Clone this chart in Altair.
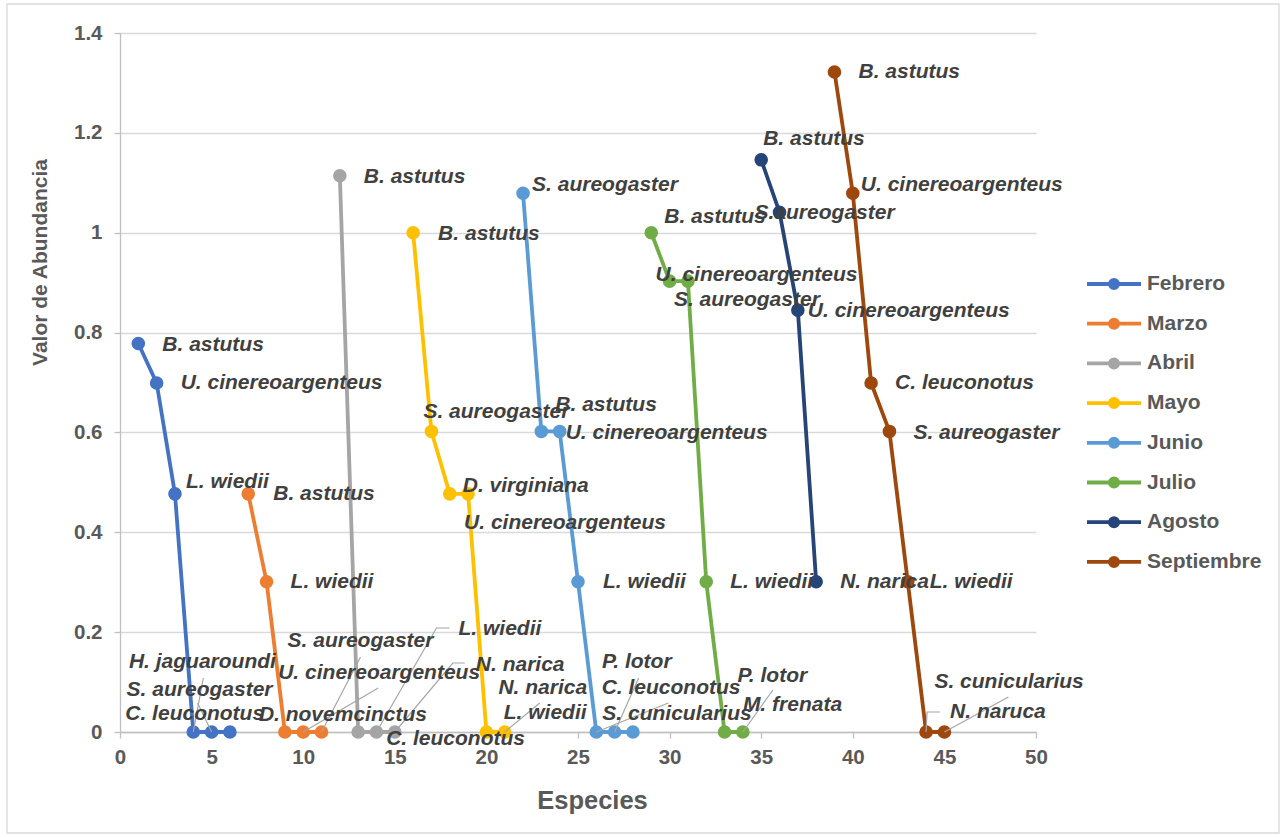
import altair as alt
import pandas as pd

# ---- series -------------------------------------------------------------
meses = ["Febrero", "Marzo", "Abril", "Mayo", "Junio", "Julio", "Agosto", "Septiembre"]
colores = ["#4472C4", "#ED7D31", "#A5A5A5", "#FFC000", "#5B9BD5", "#70AD47", "#264478", "#9E480E"]

feb_x = [1, 2, 3, 4, 5, 6]
feb_y = [0.778, 0.699, 0.477, 0, 0, 0]
feb_sp = ["B. astutus", "U. cinereoargenteus", "L. wiedii", "C. leuconotus",
          "S. aureogaster", "H. jaguaroundi"]

mar_x = [7, 8, 9, 10, 11]
mar_y = [0.477, 0.301, 0, 0, 0]
mar_sp = ["B. astutus", "L. wiedii", "D. novemcinctus", "U. cinereoargenteus", "S. aureogaster"]

abr_x = [12, 13, 14, 15]
abr_y = [1.114, 0, 0, 0]
abr_sp = ["B. astutus", "C. leuconotus", "L. wiedii", "N. narica"]

may_x = [16, 17, 18, 19, 20, 21]
may_y = [1.0, 0.602, 0.477, 0.477, 0, 0]
may_sp = ["B. astutus", "S. aureogaster", "D. virginiana", "U. cinereoargenteus",
          "N. narica", "L. wiedii"]

jun_x = [22, 23, 24, 25, 26, 27, 28]
jun_y = [1.079, 0.602, 0.602, 0.301, 0, 0, 0]
jun_sp = ["S. aureogaster", "B. astutus", "U. cinereoargenteus", "L. wiedii",
          "S. cunicularius", "C. leuconotus", "P. lotor"]

jul_x = [29, 30, 31, 32, 33, 34]
jul_y = [1.0, 0.903, 0.903, 0.301, 0, 0]
jul_sp = ["B. astutus", "U. cinereoargenteus", "S. aureogaster", "L. wiedii",
          "P. lotor", "M. frenata"]

ago_x = [35, 36, 37, 38]
ago_y = [1.146, 1.041, 0.845, 0.301]
ago_sp = ["B. astutus", "S.aureogaster", "U. cinereoargenteus", "N. narica"]

sep_x = [39, 40, 41, 42, 43, 44, 45]
sep_y = [1.322, 1.079, 0.699, 0.602, 0.301, 0, 0]
sep_sp = ["B. astutus", "U. cinereoargenteus", "C. leuconotus", "S. aureogaster",
          "L. wiedii", "N. naruca", "S. cunicularius"]

# ---- label placement (pixel offsets of each label from its point) --------
feb_off = [(24, 1), (24, 0), (11, -12), (-68, -18), (-85, -42), (-101, -70)]
mar_off = [(25, 0), (24, 0), (-26, -17), (-25, -59), (-34, -91)]
abr_off = [(24, 1), (28, 7), (82, -103), (81, -67)]
may_off = [(25, 1), (-8, -19), (13, -8), (-4, 29), (12, -44), (-1, -19)]
jun_off = [(9, -8), (14, -26), (6, 2), (25, 0), (6, -18), (-13, -44), (-31, -70)]
jul_off = [(13, -16), (-14, -6), (-14, 19), (24, 0), (13, -56), (0, -27)]
ago_off = [(2, -21), (-25, 1), (10, 1), (24, 0)]
sep_off = [(24, 0), (8, -8), (24, 0), (24, 2), (22, 0), (24, -20), (-10, -50)]

# leader lines: (month, species index, bend points as pixel offsets)
guias = [
    ("Febrero", 4, [(10, -54)]),
    ("Febrero", 5, [(-14, -29)]),
    ("Marzo", 10, [(75, -44)]),
    ("Marzo", 11, [(39, -75)]),
    ("Abril", 14, [(60, -104), (73, -104)]),
    ("Abril", 15, [(58, -69), (70, -69)]),
    ("Mayo", 21, [(35, -29)]),
    ("Junio", 26, [(72, -29)]),
    ("Junio", 27, [(24, -54)]),
    ("Julio", 34, [(30, -42)]),
    ("Septiembre", 44, [(1, -20), (14, -20)]),
    ("Septiembre", 45, [(64, -35)]),
]

# ---- geometry ------------------------------------------------------------
W, H = 916, 699
X_MAX, Y_MAX = 50, 1.4
UX = X_MAX / W   # x data units per pixel
UY = Y_MAX / H   # y data units per pixel

FONT = "Liberation Sans"
TXT = "#404040"
AXC = "#595959"

series = [
    ("Febrero", feb_x, feb_y, feb_sp, feb_off),
    ("Marzo", mar_x, mar_y, mar_sp, mar_off),
    ("Abril", abr_x, abr_y, abr_sp, abr_off),
    ("Mayo", may_x, may_y, may_sp, may_off),
    ("Junio", jun_x, jun_y, jun_sp, jun_off),
    ("Julio", jul_x, jul_y, jul_sp, jul_off),
    ("Agosto", ago_x, ago_y, ago_sp, ago_off),
    ("Septiembre", sep_x, sep_y, sep_sp, sep_off),
]

rows = []
for mes, xs, ys, names, offs in series:
    for x, y, n, (dx, dy) in zip(xs, ys, names, offs):
        rows.append({"mes": mes, "especie": x, "valor": y, "nombre": n,
                     "lx": x + dx * UX, "ly": y - dy * UY})
df = pd.DataFrame(rows)

lookup = {(r["mes"], r["especie"]): r["valor"] for r in rows}
lead_rows = []
for i, (mes, x, bends) in enumerate(guias):
    y = lookup[(mes, x)]
    lead_rows.append({"id": i, "orden": 0, "x": x, "y": y})
    for k, (dx, dy) in enumerate(bends, start=1):
        lead_rows.append({"id": i, "orden": k, "x": x + dx * UX, "y": y - dy * UY})
leaders = pd.DataFrame(lead_rows)

x_scale = alt.Scale(domain=[0, X_MAX], nice=False, zero=False)
y_scale = alt.Scale(domain=[0, Y_MAX], nice=False)
color_scale = alt.Scale(domain=meses, range=colores)

x_axis = alt.Axis(
    values=list(range(0, 51, 5)), grid=False, labelFlush=False, labelOverlap=False,
    domainColor="#BFBFBF", domainWidth=1.3, tickColor="#BFBFBF", tickWidth=1.3, tickSize=6,
    labelFont=FONT, labelFontSize=20.5, labelFontWeight="bold", labelColor=AXC, labelPadding=9,
    title="Especies", titleFont=FONT, titleFontSize=25.5, titleFontWeight="bold",
    titleColor=AXC, titleX=472, titleY=68, titleBaseline="middle",
)
y_axis = alt.Axis(
    values=[0, 0.2, 0.4, 0.6, 0.8, 1.0, 1.2, 1.4], format=".1~f", labelFlush=False,
    grid=True, gridColor="#D9D9D9", gridWidth=1.3,
    domainColor="#BFBFBF", domainWidth=1.3, tickColor="#BFBFBF", tickWidth=1.3, tickSize=6,
    labelFont=FONT, labelFontSize=20.5, labelFontWeight="bold", labelColor=AXC, labelPadding=12,
    title="Valor de Abundancia", titleFont=FONT, titleFontSize=21, titleFontWeight="bold",
    titleColor=AXC, titleX=-80, titleY=229, titleBaseline="middle", titleAngle=270,
)

# legend symbol: a line segment with a solid dot in the middle
LEG_PATH = ("M-2.7,0H2.7"
            "M-0.41,0A0.41,0.41,0,1,0,0.41,0A0.41,0.41,0,1,0,-0.41,0"
            "M-0.13,0A0.13,0.13,0,1,0,0.13,0A0.13,0.13,0,1,0,-0.13,0")

legend = alt.Legend(
    title=None, orient="none", legendX=982, legendY=239, padding=0,
    symbolType=LEG_PATH, symbolSize=400, symbolStrokeWidth=3.8,
    labelFont=FONT, labelFontSize=21, labelFontWeight="bold", labelColor=AXC,
    labelOffset=21, rowPadding=15.7, labelLimit=300,
)

base = alt.Chart(df)

lines = base.mark_line(strokeWidth=3.8).encode(
    x=alt.X("especie:Q", scale=x_scale, axis=x_axis),
    y=alt.Y("valor:Q", scale=y_scale, axis=y_axis),
    color=alt.Color("mes:N", scale=color_scale, legend=legend, sort=meses),
    detail="mes:N",
    order="especie:Q",
)

points = base.mark_point(filled=True, size=185, opacity=1).encode(
    x=alt.X("especie:Q", scale=x_scale),
    y=alt.Y("valor:Q", scale=y_scale),
    color=alt.Color("mes:N", scale=color_scale, legend=None),
)

leader_lines = alt.Chart(leaders).mark_line(color="#A6A6A6", strokeWidth=1.2).encode(
    x=alt.X("x:Q", scale=x_scale),
    y=alt.Y("y:Q", scale=y_scale),
    detail="id:N",
    order="orden:Q",
)

labels = base.mark_text(
    align="left", baseline="middle", font=FONT, fontSize=21,
    fontWeight="bold", fontStyle="italic", color=TXT,
).encode(
    x=alt.X("lx:Q", scale=x_scale),
    y=alt.Y("ly:Q", scale=y_scale),
    text="nombre:N",
)

frame = alt.Chart(pd.DataFrame({"k": [0]})).mark_rect(
    fill="transparent", stroke="#D9D9D9", strokeWidth=1.3
).encode(
    x=alt.value(-113), x2=alt.value(1159), y=alt.value(-29), y2=alt.value(800),
)

chart = alt.layer(frame, lines, points, leader_lines, labels).properties(
    width=W, height=H,
    autosize=alt.AutoSizeParams(type="none"),
    padding={"left": 120, "top": 33, "right": 250, "bottom": 105},
    background="white",
).configure_view(stroke="transparent")

chart.save("out.html", embed_options={"renderer": "svg", "actions": False})
